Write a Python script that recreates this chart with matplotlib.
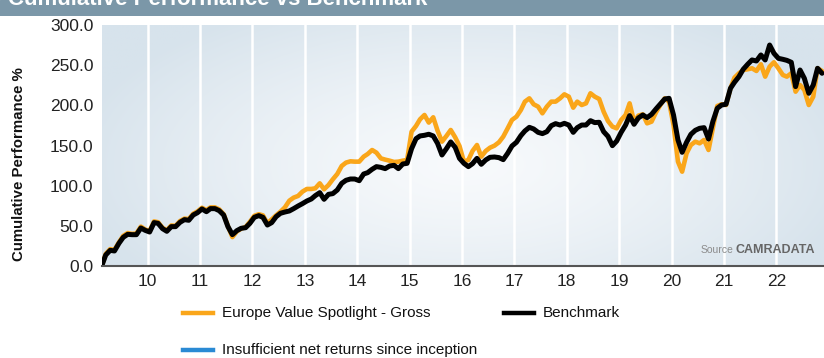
import numpy as np
import pandas as pd
import matplotlib
matplotlib.use("Agg")
import matplotlib.pyplot as plt
import matplotlib.dates as mdates
from matplotlib.lines import Line2D

plt.rcParams['font.family'] = ['Liberation Sans', 'DejaVu Sans']

# Monthly cumulative performance (%), Feb 2009 - Nov 2022
fund_gross = [
    0, 15.0, 21.0, 20.0, 29.5, 37.5, 41.0, 40.0, 40.5, 49.0, 45.5, 43.5,
    55.5, 54.5, 47.5, 44.5, 50.5, 50.0, 56.0, 59.0, 58.5, 65.0, 68.0, 72.5,
    69.5, 73.0, 73.0, 70.5, 64.5, 49.5, 36.0, 43.0, 46.5, 48.5, 55.0, 62.5,
    64.5, 63.0, 53.1, 58.1,
    63.1, 67.6, 73.0, 81.3, 85.1, 87.2, 92.5, 95.9, 95.9, 96.7, 102.9, 95.5,
    100.8, 107.9, 114.5, 124.5, 128.7, 130.3, 129.9, 129.9, 136.1, 139.4, 144.4,
    141.1, 134.0, 132.4, 131.1, 129.5, 129.9, 131.1, 132.0, 167.2, 174.3, 182.6,
    188.0, 178.5, 185.1, 168.5, 154.8, 161.9, 169.3, 160.2, 149.4,
    129.9, 132.0, 143.2, 150.6, 136.1, 143.2, 147.3, 149.8, 154.0, 161.0, 171.4,
    181.8, 185.9, 194.2, 204.6, 208.7, 201.3, 198.4, 190.1, 198.4, 204.6, 204.6,
    208.7, 213.7, 210.8, 197.1, 204.6, 200.4, 202.5, 215.0, 210.8, 207.9, 192.1,
    180.5, 173.5, 171.4, 181.8, 188.0, 202.5, 179.7, 187.2, 188.8, 177.6, 179.7,
    191.3, 200.4, 208.7, 204.6, 175.5, 129.9, 117.4, 140.3, 150.6, 154.8, 152.7,
    156.9, 144.4, 171.4, 199.2, 201.3, 200.4, 221.2, 234.5, 239.9, 244.0, 244.9,
    246.1, 242.8, 251.1, 235.7, 248.2, 253.6, 246.1, 237.8, 235.7, 239.9, 217.0,
    225.3, 219.1, 200.4, 210.8, 246.1, 242.8,
]

benchmark = [
    0, 13.7, 19.5, 18.7, 28.2, 35.7, 39.4, 39.0, 39.0, 47.3, 44.4, 42.3,
    54.0, 53.1, 46.5, 43.2, 49.0, 49.0, 54.4, 57.7, 56.9, 63.5, 66.4, 71.0,
    67.6, 71.4, 71.4, 68.9, 63.5, 49.0, 39.0, 44.0, 46.9, 47.7, 53.1, 60.6,
    62.7, 60.6, 51.0, 54.0,
    61.4, 65.6, 67.2, 68.5, 71.4, 74.7, 77.6, 80.9, 83.4, 87.6, 91.3, 83.0,
    89.2, 90.1, 94.6, 102.9, 106.7, 108.3, 108.3, 106.2, 114.5, 116.2, 120.4,
    123.7, 122.8, 121.2, 124.5, 125.3, 121.2, 127.0, 127.8, 146.0, 158.5, 161.9,
    162.7, 164.0, 161.9, 152.7, 138.2, 146.1, 154.4, 147.7, 134.0,
    127.8, 123.7, 127.4, 134.0, 126.6, 132.0, 135.3, 135.7, 134.9, 132.4, 140.3,
    149.4, 154.0, 162.3, 168.1, 172.6, 170.6, 166.4, 164.8, 167.2, 174.7, 177.2,
    175.5, 177.6, 175.5, 166.4, 172.2, 175.5, 175.5, 180.9, 178.5, 178.9, 167.2,
    161.4, 149.8, 155.6, 166.4, 175.5, 187.2, 176.4, 184.3, 188.0, 184.7, 188.8,
    195.5, 201.7, 207.9, 208.7, 188.0, 156.9, 141.5, 154.0, 163.9, 168.9, 171.4,
    172.2, 158.1, 179.7, 196.3, 200.4, 201.3, 221.2, 228.7, 235.7, 244.9, 251.1,
    256.5, 255.2, 262.7, 256.5, 275.1, 264.8, 258.5, 257.3, 256.0, 253.6, 223.3,
    244.0, 233.6, 215.0, 225.3, 246.1, 239.9,
]

year_ticks = list(range(2010, 2023))
year_labels = [f"{y % 100:02d}" for y in year_ticks]
y_ticks = [0, 50, 100, 150, 200, 250, 300]

series_names = ["Europe Value Spotlight - Gross", "Benchmark",
                "Insufficient net returns since inception"]
series_colors = ["#faa61a", "#000000", "#2a8ad4"]

dates = pd.date_range("2009-02-01", periods=len(benchmark), freq="MS") + pd.Timedelta(days=14)

W, H = 824, 358
fig = plt.figure(figsize=(W / 100, H / 100), dpi=100)
fig.patch.set_facecolor("white")

# Header band
band = fig.add_axes([0, 1 - 16 / H, 1, 16 / H])
band.set_axis_off()
band.add_patch(plt.Rectangle((0, 0), 1, 1, color="#7b97a8", transform=band.transAxes))
fig.text(8 / W, 1 - 5 / H, "Cumulative Performance vs Benchmark", color="white",
         fontsize=16, fontweight="bold", va="baseline", ha="left")

left, right, top, bottom = 101.7, 824, 25, 266
ax = fig.add_axes([left / W, 1 - bottom / H, (right - left) / W, (bottom - top) / H])

x0 = dates[0]
x1 = pd.Timestamp("2022-11-29")
ax.set_xlim(x0, x1)
ax.set_ylim(0, 300)

# Soft radial background inside the plot area
gy, gx = np.mgrid[0:1:200j, 0:1:400j]
r = np.sqrt(((gx - 0.5) / 0.55) ** 2 + ((gy - 0.42) / 0.75) ** 2)
t = np.clip(r, 0, 1) ** 1.3
edge = np.array([0xd7, 0xe3, 0xec]) / 255
centre = np.array([0xf8, 0xfa, 0xfc]) / 255
img = centre[None, None, :] * (1 - t[..., None]) + edge[None, None, :] * t[..., None]
ax.imshow(img, extent=[mdates.date2num(x0), mdates.date2num(x1), 0, 300],
          aspect="auto", origin="lower", zorder=0)

tick_dates = [pd.Timestamp(f"{y}-01-01") for y in year_ticks]
for d in tick_dates:
    ax.axvline(d, color="white", lw=1.8, zorder=1)

ax.plot(dates, fund_gross, color=series_colors[0], lw=3.3, zorder=3,
        solid_joinstyle="round", solid_capstyle="round")
ax.plot(dates, benchmark, color=series_colors[1], lw=3.6, zorder=4,
        solid_joinstyle="round", solid_capstyle="round")

ax.set_xticks(tick_dates)
ax.set_xticklabels(year_labels)
ax.set_yticks(y_ticks)
ax.set_yticklabels([f"{v:.1f}" for v in y_ticks])
ax.tick_params(axis="both", length=0, labelsize=12.5, colors="#222222")
ax.tick_params(axis="x", pad=6)
ax.tick_params(axis="y", pad=6)

for s in ["top", "right", "left"]:
    ax.spines[s].set_visible(False)
ax.spines["bottom"].set_color("#555555")
ax.spines["bottom"].set_linewidth(1.5)
ax.spines["bottom"].set_zorder(5)

fig.text(19 / W, 1 - 164 / H, "Cumulative Performance %", rotation=90,
         fontsize=10.8, fontweight="bold", ha="center", va="center", color="#111111")

# Source note
fig.text(815 / W, 1 - 250 / H, "CAMRADATA", ha="right", va="center",
         fontsize=9, fontweight="bold", color="#666666", zorder=6)
fig.text(733 / W, 1 - 250 / H, "Source", ha="right", va="center",
         fontsize=7.5, color="#8c8c8c")

# Legend
def legend_item(x, y, color, label):
    fig.add_artist(Line2D([x / W, (x + 30) / W], [1 - y / H, 1 - y / H],
                          color=color, lw=3.2, transform=fig.transFigure))
    fig.text((x + 39) / W, 1 - y / H, label, ha="left", va="center",
             fontsize=11, color="#111111")

legend_item(183, 313, series_colors[0], series_names[0])
legend_item(504, 313, series_colors[1], series_names[1])
legend_item(183, 350, series_colors[2], series_names[2])

fig.savefig("out.png", dpi=100)
